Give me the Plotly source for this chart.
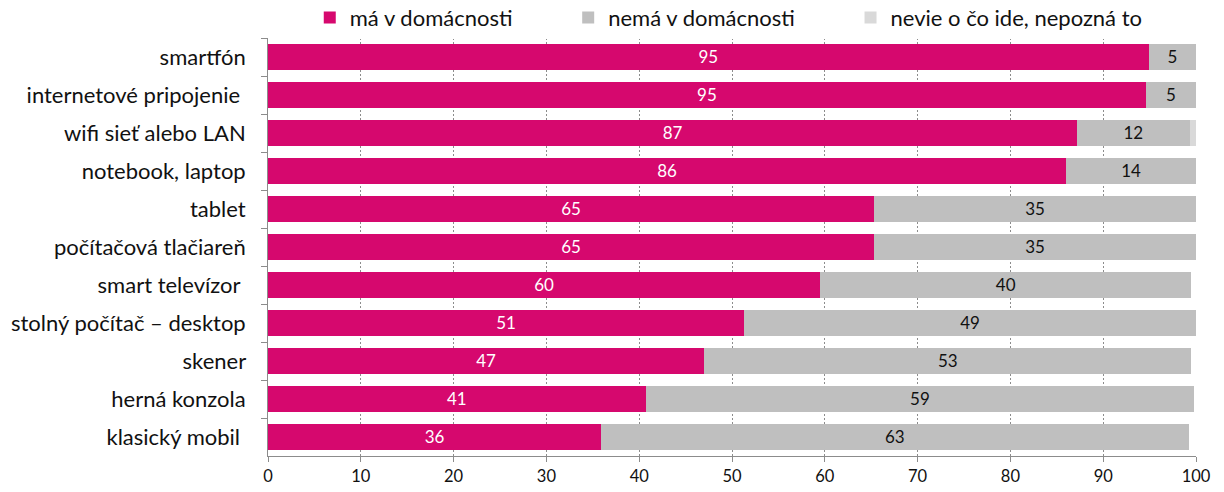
import plotly.graph_objects as go

categories = ["smartfón", "internetové pripojenie\u00a0", "wifi sieť alebo LAN", "notebook, laptop",
              "tablet", "počítačová tlačiareň", "smart televízor\u00a0", "stolný počítač – desktop",
              "skener", "herná konzola", "klasický mobil\u00a0"]
has = [94.9, 94.6, 87.2, 86.0, 65.3, 65.3, 59.5, 51.3, 47.0, 40.7, 35.9]
has_labels = [95, 95, 87, 86, 65, 65, 60, 51, 47, 41, 36]
hasnot = [5.1, 5.4, 12.1, 14.0, 34.7, 34.7, 40.0, 48.7, 52.5, 59.1, 63.3]
hasnot_labels = [5, 5, 12, 14, 35, 35, 40, 49, 53, 59, 63]
unknown = [0, 0, 0.7, 0, 0, 0, 0, 0, 0, 0, 0]
series_names = ["má v domácnosti", "nemá v domácnosti", "nevie o čo ide, nepozná to"]
xticks = [0, 10, 20, 30, 40, 50, 60, 70, 80, 90, 100]

font = "Lato, Noto Sans, sans-serif"
pad = "\u00a0" * 9
fig = go.Figure()
fig.add_trace(go.Bar(y=categories, x=has, orientation="h", name=series_names[0] + pad,
                     marker=dict(color="#D6086E", line=dict(width=0)),
                     text=[str(v) for v in has_labels], textposition="inside", textangle=0,
                     insidetextanchor="middle", textfont=dict(color="white", size=17, family=font)))
fig.add_trace(go.Bar(y=categories, x=hasnot, orientation="h", name=series_names[1] + pad,
                     marker=dict(color="#BFBFBF", line=dict(width=0)),
                     text=[str(v) for v in hasnot_labels], textposition="inside", textangle=0,
                     insidetextanchor="middle", textfont=dict(color="#111111", size=17, family=font)))
fig.add_trace(go.Bar(y=categories, x=unknown, orientation="h", name=series_names[2],
                     marker=dict(color="#D9D9D9", line=dict(width=0))))

fig.update_layout(
    barmode="stack", bargap=0.29,
    width=1224, height=492,
    margin=dict(l=268, r=28, t=38, b=36, autoexpand=False),
    plot_bgcolor="white", paper_bgcolor="white",
    font=dict(family=font, size=18, color="#111111"),
    uniformtext=dict(mode="show", minsize=8),
    legend=dict(orientation="h", x=0.045, xanchor="left", y=1.099, yanchor="top",
                font=dict(size=22), itemwidth=30, traceorder="normal", tracegroupgap=0),
    xaxis=dict(range=[0, 100], tickvals=xticks, showgrid=True, gridcolor="#8C8C8C",
               griddash="2px,2px", gridwidth=1, zeroline=False, showline=True, linecolor="#8C8C8C",
               ticks="outside", ticklen=5, tickcolor="#8C8C8C", tickfont=dict(size=16.5),
               fixedrange=True, automargin=False),
    yaxis=dict(autorange="reversed", showline=True, linecolor="#8C8C8C", ticks="outside",
               tickson="boundaries", ticklen=6, tickcolor="#8C8C8C", tickfont=dict(size=22),
               ticksuffix="\u00a0\u00a0\u00a0", showgrid=False, automargin=False),
)
fig.write_html("out.html", config={"displayModeBar": False},
               post_script="document.body.style.margin='0px';")
